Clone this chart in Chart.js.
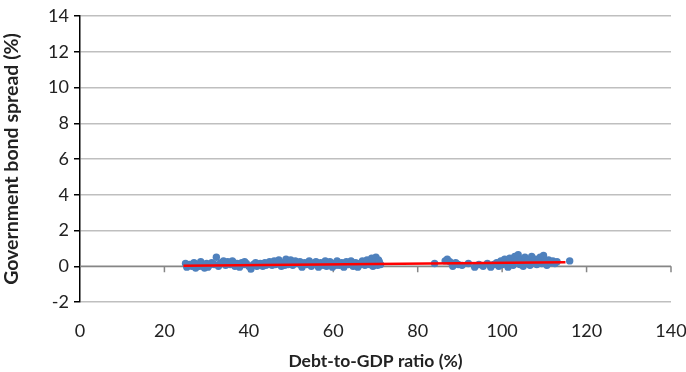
<!DOCTYPE html>
<html>
<head>
<meta charset="utf-8">
<script src="https://cdn.jsdelivr.net/npm/chart.js@4/dist/chart.umd.min.js"></script>
<style>
  html, body { margin: 0; padding: 0; background: #fff; }
  #wrap { width: 686px; height: 372px; }
</style>
</head>
<body>
<div id="wrap"><canvas id="c" width="686" height="372"></canvas></div>
<script>
// Debt-to-GDP ratio (%) for each observation
const debtRatio = [
  25.0, 25.3, 25.8, 26.0, 26.5, 27.0, 27.4, 28.0, 28.3, 28.6, 29.1, 29.5, 30.0, 30.3, 30.6,
  31.2, 31.8, 32.3, 32.8, 33.0, 33.4, 34.0, 34.5, 35.0, 35.6, 36.1, 36.4, 36.7, 37.2, 37.8,
  38.3, 38.9, 39.0, 39.4, 40.0, 40.5, 41.1, 41.6, 41.9, 42.2, 42.7, 43.3, 43.8, 44.0, 44.4,
  44.9, 45.5, 46.0, 46.3, 46.6, 47.1, 47.7, 48.2, 48.5, 48.8, 49.3, 49.9, 50.1, 50.4, 51.0,
  51.5, 52.1, 52.4, 52.6, 53.2, 53.7, 54.3, 54.5, 54.8, 55.4, 55.9, 56.2, 56.5, 57.0, 57.6,
  58.1, 58.4, 58.7, 59.2, 59.8, 60.3, 60.6, 60.9, 61.4, 62.0, 62.5, 62.8, 63.1, 63.6, 64.2,
  64.5, 64.7, 65.3, 65.8, 66.1, 66.4, 66.9, 67.5, 67.8, 68.0, 68.6, 69.1, 69.4, 69.6, 70.1,
  70.5, 70.7, 70.9, 71.2,
  84.0, 86.5, 87.0, 87.6, 88.3, 89.0, 89.6, 90.5, 92.0, 93.5, 94.5, 95.5, 96.5, 97.3, 98.0,
  98.7, 99.2, 99.7, 100.1, 100.6, 101.0, 101.4, 101.8, 102.2, 102.6, 103.0, 103.4, 103.8, 104.2, 104.6,
  105.0, 105.4, 105.8, 106.2, 106.6, 107.0, 107.4, 107.8, 108.2, 108.6, 109.0, 109.4, 109.8, 110.2, 110.6,
  111.0, 111.5, 112.0, 112.5, 113.0, 116.0
];

// Government bond spread (%) for each observation
const bondSpread = [
  0.15, -0.05, 0.05, 0.10, 0.00, 0.20, -0.10, 0.10, 0.00, 0.25, 0.00, -0.10, 0.15, -0.05, 0.05,
  0.20, 0.10, 0.50, 0.00, 0.10, 0.20, 0.30, 0.05, 0.25, 0.10, 0.30, 0.20, 0.00, 0.15, -0.05,
  0.20, 0.10, 0.25, 0.15, 0.00, -0.15, 0.10, 0.20, 0.00, 0.05, 0.15, 0.00, 0.20, 0.05, 0.10,
  0.25, 0.05, 0.30, 0.10, 0.15, 0.35, 0.00, 0.20, 0.05, 0.40, 0.10, 0.35, 0.20, 0.05, 0.30,
  0.15, 0.25, 0.05, -0.05, 0.20, 0.10, 0.30, 0.20, 0.00, 0.15, 0.25, 0.10, -0.05, 0.20, 0.05,
  0.30, 0.00, 0.10, 0.25, -0.05, 0.15, 0.05, 0.30, 0.05, 0.20, -0.05, 0.15, 0.25, 0.10, 0.30,
  0.20, 0.00, 0.20, -0.05, 0.05, 0.15, 0.30, 0.05, 0.15, 0.35, 0.10, 0.45, 0.00, 0.20, 0.50,
  0.05, 0.35, 0.25, 0.10,
  0.15, 0.30, 0.40, 0.25, 0.00, 0.20, 0.10, 0.05, 0.15, -0.05, 0.10, 0.00, 0.15, -0.05, 0.10,
  0.20, 0.00, 0.30, 0.10, 0.40, 0.15, -0.05, 0.45, 0.20, 0.05, 0.55, 0.30, 0.65, 0.10, 0.40,
  0.00, 0.50, 0.20, 0.35, 0.05, 0.55, 0.25, 0.40, 0.10, 0.30, 0.50, 0.15, 0.60, 0.25, 0.05,
  0.35, 0.20, 0.30, 0.15, 0.25, 0.30
];

// Linear trend endpoints
const trendX = [24.5, 115.0];
const trendY = [0.03, 0.22];

// Axis ticks
const xTicks = [0, 20, 40, 60, 80, 100, 120, 140];
const yTicks = [-2, 0, 2, 4, 6, 8, 10, 12, 14];

const FONT = "Lato, 'Open Sans', 'Liberation Sans', sans-serif";

const scatterPts = debtRatio.map((x, i) => ({ x: x, y: bondSpread[i] }));
const trendPts = trendX.map((x, i) => ({ x: x, y: trendY[i] }));

// Horizontal axis line drawn where the spread is zero, with its tick marks
const zeroAxis = {
  id: 'zeroAxis',
  beforeDatasetsDraw(chart) {
    const { ctx, scales } = chart;
    const y0 = scales.y.getPixelForValue(0);
    const xl = scales.x.getPixelForValue(xTicks[0]);
    const xr = scales.x.getPixelForValue(xTicks[xTicks.length - 1]);
    ctx.save();
    ctx.strokeStyle = '#868686';
    ctx.lineWidth = 1.5;
    ctx.beginPath();
    ctx.moveTo(xl, y0);
    ctx.lineTo(xr, y0);
    xTicks.forEach(v => {
      if (v === 0) return;
      const px = scales.x.getPixelForValue(v);
      ctx.moveTo(px, y0);
      ctx.lineTo(px, y0 + 6);
    });
    ctx.stroke();
    ctx.restore();
  }
};

new Chart(document.getElementById('c'), {
  type: 'scatter',
  data: {
    datasets: [
      {
        type: 'line',
        data: trendPts,
        borderColor: '#FF0000',
        borderWidth: 2.5,
        pointRadius: 0,
        fill: false,
        order: 0
      },
      {
        data: scatterPts,
        backgroundColor: '#4F81BD',
        borderColor: '#4F81BD',
        borderWidth: 0,
        pointRadius: 3.7,
        order: 1
      }
    ]
  },
  options: {
    responsive: false,
    animation: false,
    devicePixelRatio: 1,
    layout: { padding: { top: 16, right: 15, left: 0, bottom: 0 } },
    plugins: { legend: { display: false }, tooltip: { enabled: false } },
    scales: {
      x: {
        type: 'linear',
        min: 0, max: 140,
        afterBuildTicks(scale) { scale.ticks = xTicks.map(v => ({ value: v })); },
        afterFit(scale) {
          scale.height = 70;
          scale.paddingLeft = 0;
          scale.paddingRight = 0;
        },
        grid: { display: false, drawTicks: false },
        border: { display: false },
        ticks: { padding: 18, color: '#222', font: { family: FONT, size: 18 } },
        title: {
          display: true,
          text: 'Debt-to-GDP ratio (%)',
          color: '#222',
          font: { family: FONT, size: 17.5, weight: 'bold' },
          padding: { top: 3, bottom: 0 }
        }
      },
      y: {
        min: -2, max: 14,
        afterBuildTicks(scale) { scale.ticks = yTicks.map(v => ({ value: v })); },
        afterFit(scale) {
          scale.width = 80;
          scale.paddingTop = 0;
          scale.paddingBottom = 0;
        },
        grid: { color: '#BFBFBF', lineWidth: 1.5, tickColor: '#000', tickLength: 6 },
        border: { display: true, color: '#000', width: 1.5 },
        ticks: { padding: 5, color: '#222', font: { family: FONT, size: 18 } },
        title: {
          display: true,
          text: 'Government bond spread (%)',
          color: '#222',
          font: { family: FONT, size: 19.5, weight: 'bold' },
          padding: { top: 0, bottom: 2 }
        }
      }
    }
  },
  plugins: [zeroAxis]
});
</script>
</body>
</html>
